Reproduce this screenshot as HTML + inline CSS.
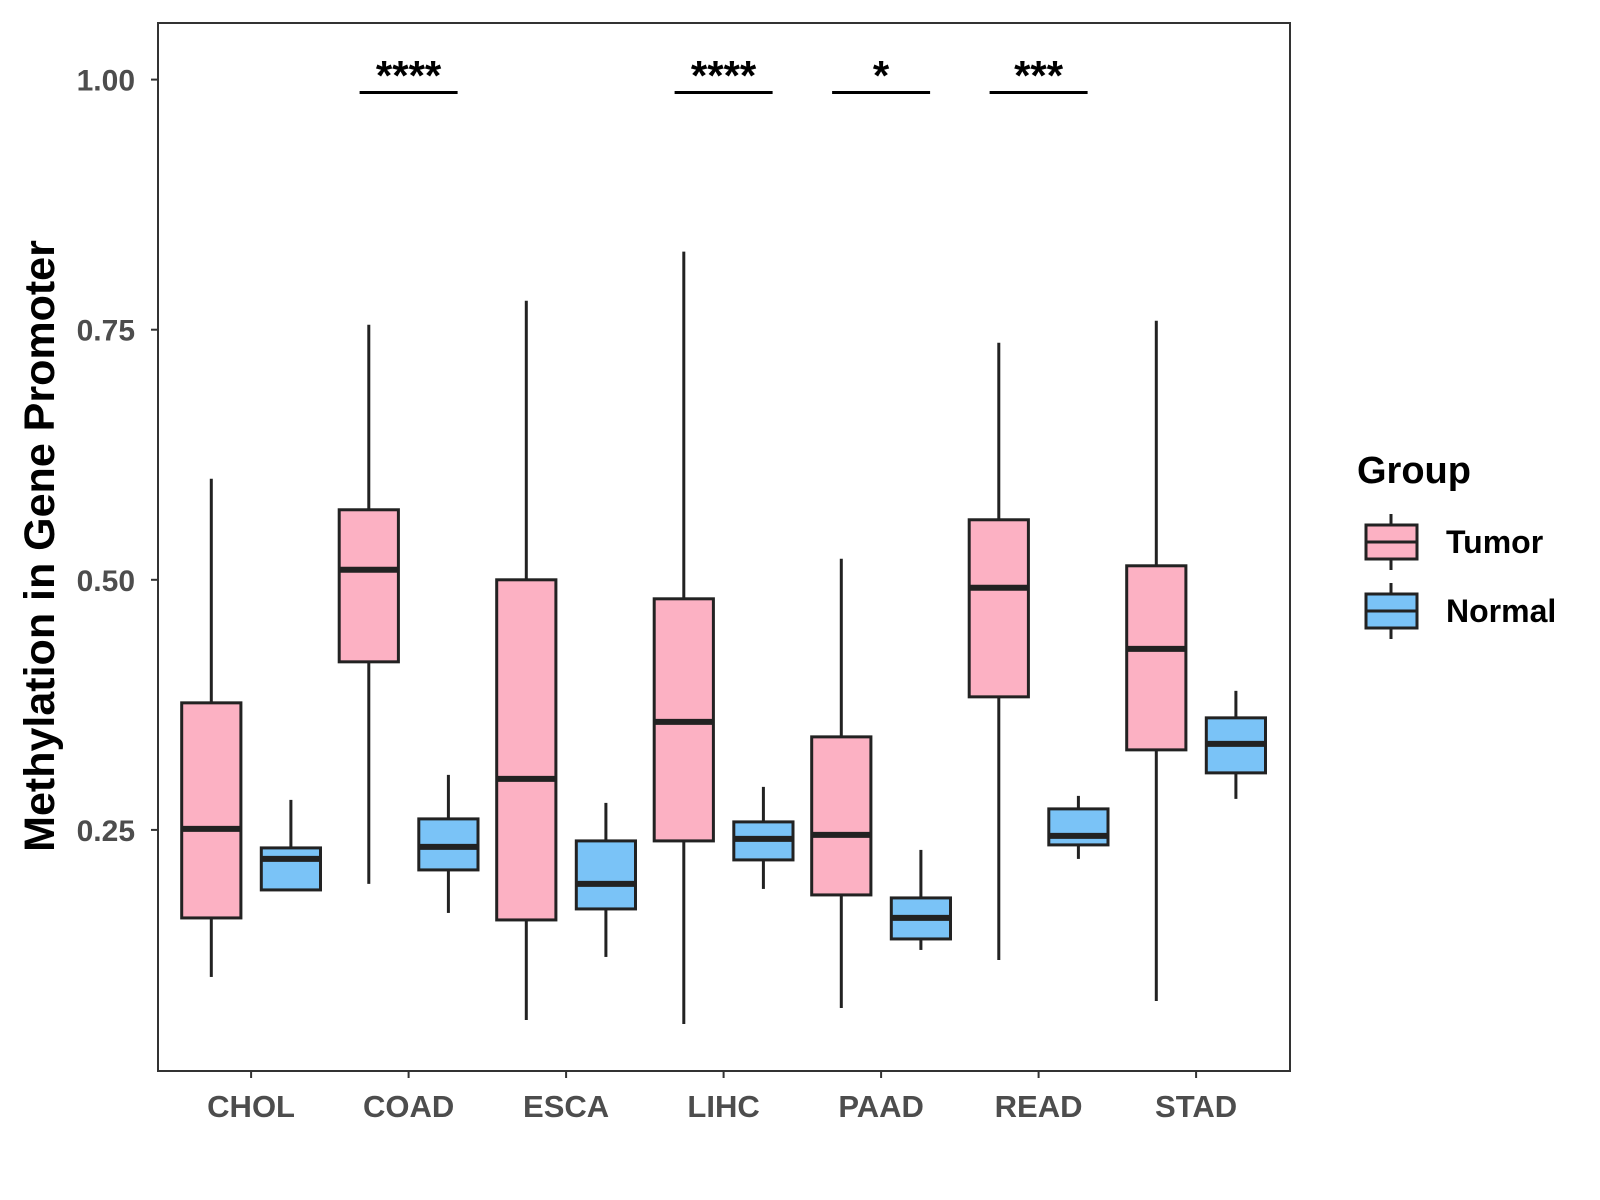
<!DOCTYPE html>
<html><head><meta charset="utf-8"><style>body{margin:0;background:#fff}svg{display:block}text{font-family:"Liberation Sans",Arial,sans-serif;font-weight:bold}</style></head>
<body>
<svg id="chart" width="1600" height="1200" xmlns="http://www.w3.org/2000/svg"></svg>
<script>
const categories=["CHOL","COAD","ESCA","LIHC","PAAD","READ","STAD"];
// [lowWhisker, Q1, median, Q3, highWhisker]
const tumorStats=[[0.103,0.162,0.251,0.377,0.601],[0.196,0.418,0.510,0.570,0.755],[0.060,0.160,0.301,0.500,0.779],[0.056,0.239,0.358,0.481,0.828],[0.072,0.185,0.245,0.343,0.521],[0.120,0.383,0.492,0.560,0.737],[0.079,0.330,0.431,0.514,0.759]];
const normalStats=[[0.190,0.190,0.221,0.232,0.280],[0.167,0.210,0.233,0.261,0.305],[0.123,0.171,0.196,0.239,0.277],[0.191,0.220,0.241,0.258,0.293],[0.130,0.141,0.162,0.182,0.230],[0.221,0.235,0.244,0.271,0.284],[0.281,0.307,0.336,0.362,0.389]];
const signifLabels=["","****","","****","*","***",""];
const yTicks=[0.25,0.50,0.75,1.00];
const yTickLabels=["0.25","0.50","0.75","1.00"];
const svg=document.getElementById('chart');
const NS="http://www.w3.org/2000/svg";
const L=158,R=1290,T=23,B=1071;
function y(v){return 79.6+(1-v)*1000.4;}
function x(i){return 251.1+i*157.5;}
function mk(tag,attrs,parent){const e=document.createElementNS(NS,tag);for(const k in attrs)e.setAttribute(k,attrs[k]);(parent||svg).appendChild(e);return e;}
let panel=mk('rect',{x:L,y:T,width:R-L,height:B-T,fill:'none',stroke:'#333',"stroke-width":2});


yTicks.forEach((v,i)=>{
  let t=mk('line',{x1:L-7,x2:L,y1:y(v),y2:y(v),stroke:'#333',"stroke-width":2});
  
  
  let l=mk('text',{x:L-23,y:y(v)+11,"text-anchor":"end","font-size":30,fill:'#4d4d4d'});
  l.textContent=yTickLabels[i];
  
  
});
function box(cx,s,fill,name){
  const hw=29.6;
  const g=mk('g',{});
  
  
  mk('line',{x1:cx,x2:cx,y1:y(s[4]),y2:y(s[3]),stroke:'#222',"stroke-width":3},g);
  mk('line',{x1:cx,x2:cx,y1:y(s[1]),y2:y(s[0]),stroke:'#222',"stroke-width":3},g);
  mk('rect',{x:cx-hw,y:y(s[3]),width:2*hw,height:y(s[1])-y(s[3]),fill:fill,stroke:'#222',"stroke-width":3},g);
  mk('line',{x1:cx-hw,x2:cx+hw,y1:y(s[2]),y2:y(s[2]),stroke:'#222',"stroke-width":6},g);
}
categories.forEach((c,i)=>{
  box(x(i)-39.8,tumorStats[i],'#fcb1c3','tumor-box-'+c.toLowerCase());
  box(x(i)+39.8,normalStats[i],'#7ac3f7','normal-box-'+c.toLowerCase());
  let t=mk('line',{x1:x(i),x2:x(i),y1:B,y2:B+7,stroke:'#333',"stroke-width":2});
  
  
  let l=mk('text',{x:x(i),y:1117,"text-anchor":"middle","font-size":31,fill:'#4d4d4d'});
  l.textContent=c;
  
  
  if(signifLabels[i]){
    let b=mk('line',{x1:x(i)-49,x2:x(i)+49,y1:92.5,y2:92.5,stroke:'#000',"stroke-width":3});
    
    
    let s=mk('text',{x:x(i),y:90,"text-anchor":"middle","font-size":42,fill:'#000'});
    s.textContent=signifLabels[i];
    
    
  }
});
let yt=mk('text',{x:0,y:0,transform:'translate(54,546) rotate(-90)',"text-anchor":"middle","font-size":43,fill:'#000'});
yt.textContent='Methylation in Gene Promoter';


let lt=mk('text',{x:1357,y:483,"font-size":38,fill:'#000'});
lt.textContent='Group';


[['Tumor','#fcb1c3',542],['Normal','#7ac3f7',611]].forEach(([n,f,cy])=>{
  const g=mk('g',{});
  
  
  mk('line',{x1:1391,x2:1391,y1:cy-28,y2:cy+28,stroke:'#222',"stroke-width":3},g);
  mk('rect',{x:1366,y:cy-17,width:51,height:34,fill:f,stroke:'#222',"stroke-width":3},g);
  mk('line',{x1:1366,x2:1417,y1:cy,y2:cy,stroke:'#222',"stroke-width":3},g);
  const t=mk('text',{x:1446,y:cy+11,"font-size":32,fill:'#000'},g);
  t.textContent=n;
});
</script>
</body></html>
